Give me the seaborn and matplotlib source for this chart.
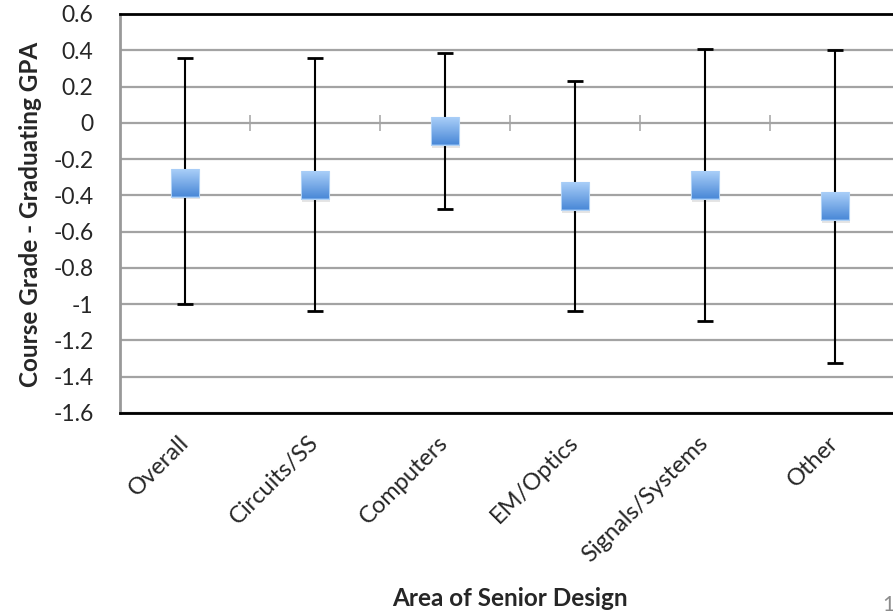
import numpy as np
import pandas as pd
import matplotlib
matplotlib.use("Agg")
import matplotlib.pyplot as plt
from matplotlib.colors import LinearSegmentedColormap
import seaborn as sns

# values
areas = ["Overall", "Circuits/SS", "Computers", "EM/Optics", "Signals/Systems", "Other"]
mean_diff = [-0.33, -0.345, -0.045, -0.405, -0.345, -0.46]
upper = [0.36, 0.355, 0.385, 0.23, 0.405, 0.40]
lower = [-1.0, -1.035, -0.475, -1.035, -1.09, -1.325]
yticks = [0.6, 0.4, 0.2, 0, -0.2, -0.4, -0.6, -0.8, -1, -1.2, -1.4, -1.6]

df = pd.DataFrame({"area": areas, "mean": mean_diff, "hi": upper, "lo": lower})
df["x"] = np.arange(len(df))

sns.set_style("white")
plt.rcParams["font.family"] = ["Lato", "DejaVu Sans"]

fig = plt.figure(figsize=(8.93, 6.15), dpi=100)
ax = fig.add_axes([120 / 893, 1 - 413 / 615, 780 / 893, 399 / 615])

grid_c = "#a3a3a3"
ax.set_ylim(-1.6, 0.6)
ax.set_xlim(-0.5, len(df) - 0.5)
ax.set_yticks(yticks)
ax.set_yticklabels([f"{t:g}" for t in yticks], fontsize=16.5)
for t in yticks:
    ax.axhline(t, color=grid_c, lw=1.6, zorder=0)

# category separators on the zero line
bounds = df["x"].values[:-1] + 0.5
ax.plot(bounds, np.zeros(len(bounds)), ls="none", marker="|", ms=11.5, mew=1.1,
        color=grid_c, zorder=1)

ax.errorbar(df["x"], df["mean"],
            yerr=[df["mean"] - df["lo"], df["hi"] - df["mean"]],
            fmt="none", ecolor="black", elinewidth=1.5, capsize=6, capthick=2,
            zorder=2)

# soft shadow then the square markers
ax.scatter(df["x"] + 0.01, df["mean"] - 0.015, marker="s", s=420,
           color="#000000", alpha=0.10, linewidths=0, zorder=3)
sns.scatterplot(data=df, x="x", y="mean", marker="s", s=380, color="#6ea4e6",
                edgecolor="#b0d2f6", linewidth=0.8, ax=ax, zorder=4, legend=False)

# vertical gradient inside each square (light top, darker bottom)
grad = LinearSegmentedColormap.from_list("sq", ["#4c8ad8", "#a9cef8"])
half = np.sqrt(380) / 2 * fig.dpi / 72
for xv, yv in zip(df["x"], df["mean"]):
    cx, cy = ax.transData.transform((xv, yv))
    (x0, y0), (x1, y1) = ax.transData.inverted().transform(
        [(cx - half + 0.5, cy - half + 0.5), (cx + half - 0.5, cy + half - 0.5)])
    ax.imshow(np.linspace(0, 1, 50).reshape(-1, 1), cmap=grad, origin="lower",
              extent=(x0, x1, y0, y1), aspect="auto", zorder=5,
              interpolation="bilinear")
ax.set_xlim(-0.5, len(df) - 0.5)
ax.set_ylim(-1.6, 0.6)

ax.set_xticks(df["x"])
ax.set_xticklabels(areas, rotation=45, ha="right", va="center", rotation_mode="anchor",
                   fontsize=17)
ax.tick_params(axis="x", length=0, pad=19)
ax.tick_params(axis="y", length=0, pad=19)

for side in ["top", "bottom"]:
    ax.spines[side].set_color("black")
    ax.spines[side].set_linewidth(2)
ax.spines["left"].set_color("#999999")
ax.spines["left"].set_linewidth(2)
ax.spines["right"].set_visible(False)

ax.set_xlabel("")
ax.set_ylabel("")
fig.text(31 / 893, 1 - 214 / 615, "Course Grade - Graduating GPA", fontsize=17.5,
         fontweight="bold", rotation=90, ha="center", va="center")
fig.text(510 / 893, 1 - 598 / 615, "Area of Senior Design", fontsize=17.5,
         fontweight="bold", ha="center", va="center")
fig.text(882 / 893, 1 - 605 / 615, "1", fontsize=15, color="#8c8c8c",
         ha="left", va="center")

fig.savefig("out.png", dpi=100)
